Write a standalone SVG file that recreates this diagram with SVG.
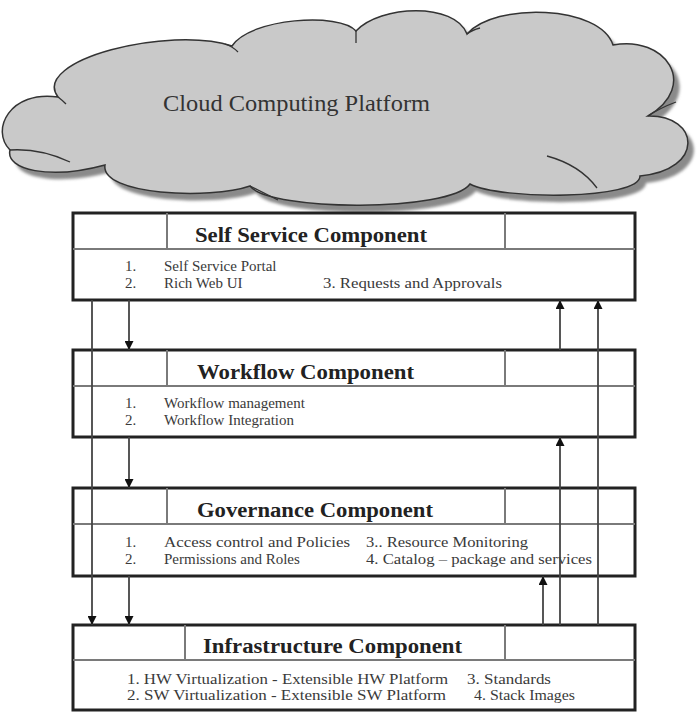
<svg xmlns="http://www.w3.org/2000/svg" width="697" height="714" viewBox="0 0 697 714">
<style>
.box{fill:#fff;stroke:#222;stroke-width:3}
.hdr{stroke:#7a7a7a;stroke-width:2;fill:none}
.title{font-family:"Liberation Serif",serif;font-weight:bold;font-size:20px;fill:#222}
.item{font-family:"Liberation Serif",serif;font-size:15px;fill:#3a3a3a}
.conn{stroke:#444;stroke-width:1.8;fill:none}
.fold{stroke:#333;stroke-width:1.3;fill:none}
</style>
<defs>
<marker id="ah" viewBox="0 0 10 10" refX="10" refY="5" markerWidth="10" markerHeight="9" markerUnits="userSpaceOnUse" orient="auto">
<path d="M0,0 L10,5 L0,10 Z" fill="#111"/>
</marker>
<filter id="blur" x="-5%" y="-5%" width="110%" height="110%"><feGaussianBlur stdDeviation="1.5"/></filter>
<path id="cloudPath" d="M 58,97 C 30,60 170,25 232,46 C 250,18 340,12 356,31 C 380,5 455,2 467,34 C 495,2 600,5 613,45 C 665,35 700,85 648,116 C 700,115 705,170 640,176 C 640,200 500,200 470,184 C 450,212 270,212 250,186 C 210,200 100,195 105,165 C 50,180 5,170 10,150 C -10,130 10,90 58,97 Z"/>
</defs>

<g id="cloud">
<use href="#cloudPath" transform="translate(6,7)" fill="#8a8a8a" filter="url(#blur)"/>
<use href="#cloudPath" fill="#c9c9c9" stroke="#333" stroke-width="1.5"/>
<path class="fold" d="M 10,150 Q 40,148 70,162"/>
<path class="fold" d="M 58,97 Q 62,100 66,104"/>
<path class="fold" d="M 225,44 Q 232,46 238,52"/>
<path class="fold" d="M 356,31 Q 356,37 356,43"/>
<path class="fold" d="M 467,34 Q 472,30 480,28"/>
<path class="fold" d="M 648,116 Q 660,108 676,102"/>
<path class="fold" d="M 547,156 Q 580,165 597,188"/>
<path class="fold" d="M 250,186 Q 262,192 278,200"/>
<text x="163" y="111" font-family="Liberation Serif, serif" font-size="24" fill="#333" textLength="267" lengthAdjust="spacingAndGlyphs">Cloud Computing Platform</text>
</g>

<g id="self-service">
<rect class="box" x="73" y="213" width="562" height="87"/>
<path class="hdr" d="M73,249 H635 M167,213 V249 M505,213 V249"/>
<text class="title" x="195" y="242" textLength="232" lengthAdjust="spacingAndGlyphs">Self Service Component</text>
<text class="item" x="125" y="271">1.</text>
<text class="item" x="164" y="271">Self Service Portal</text>
<text class="item" x="125" y="288">2.</text>
<text class="item" x="164" y="288">Rich Web UI</text>
<text class="item" x="323" y="288" textLength="179" lengthAdjust="spacingAndGlyphs">3. Requests and Approvals</text>
</g>

<g id="workflow">
<rect class="box" x="73" y="350" width="562" height="87"/>
<path class="hdr" d="M73,386 H635 M167,350 V386 M505,350 V386"/>
<text class="title" x="197" y="379" textLength="217" lengthAdjust="spacingAndGlyphs">Workflow Component</text>
<text class="item" x="125" y="408">1.</text>
<text class="item" x="164" y="408">Workflow management</text>
<text class="item" x="125" y="425">2.</text>
<text class="item" x="164" y="425">Workflow Integration</text>
</g>

<g id="governance">
<rect class="box" x="73" y="488" width="562" height="88"/>
<path class="hdr" d="M73,524 H635 M167,488 V524 M505,488 V524"/>
<text class="title" x="197" y="517" textLength="236" lengthAdjust="spacingAndGlyphs">Governance Component</text>
<text class="item" x="125" y="547">1.</text>
<text class="item" x="164" y="547" textLength="186" lengthAdjust="spacingAndGlyphs">Access control and Policies</text>
<text class="item" x="366" y="547" textLength="162" lengthAdjust="spacingAndGlyphs">3.. Resource Monitoring</text>
<text class="item" x="125" y="564">2.</text>
<text class="item" x="164" y="564">Permissions and Roles</text>
<text class="item" x="366" y="564" textLength="226" lengthAdjust="spacingAndGlyphs">4. Catalog – package and services</text>
</g>

<g id="infrastructure">
<rect class="box" x="73" y="625" width="562" height="85"/>
<path class="hdr" d="M73,660 H635 M185,625 V660 M505,625 V660"/>
<text class="title" x="203" y="653" textLength="259" lengthAdjust="spacingAndGlyphs">Infrastructure Component</text>
<text class="item" x="127" y="684" textLength="321" lengthAdjust="spacingAndGlyphs">1. HW Virtualization  - Extensible HW Platform</text>
<text class="item" x="467" y="684" textLength="84" lengthAdjust="spacingAndGlyphs">3. Standards</text>
<text class="item" x="127" y="700" textLength="319" lengthAdjust="spacingAndGlyphs">2. SW Virtualization  - Extensible SW Platform</text>
<text class="item" x="474" y="700" textLength="101" lengthAdjust="spacingAndGlyphs">4. Stack Images</text>
</g>

<g id="connectors">
<line class="conn" x1="92" y1="300" x2="92" y2="625" marker-end="url(#ah)"/>
<line class="conn" x1="129" y1="300" x2="129" y2="350" marker-end="url(#ah)"/>
<line class="conn" x1="129" y1="437" x2="129" y2="488" marker-end="url(#ah)"/>
<line class="conn" x1="129" y1="576" x2="129" y2="625" marker-end="url(#ah)"/>
<line class="conn" x1="543" y1="625" x2="543" y2="576" marker-end="url(#ah)"/>
<line class="conn" x1="560" y1="625" x2="560" y2="437" marker-end="url(#ah)"/>
<line class="conn" x1="560" y1="350" x2="560" y2="300" marker-end="url(#ah)"/>
<line class="conn" x1="598" y1="625" x2="598" y2="300" marker-end="url(#ah)"/>
</g>
</svg>
